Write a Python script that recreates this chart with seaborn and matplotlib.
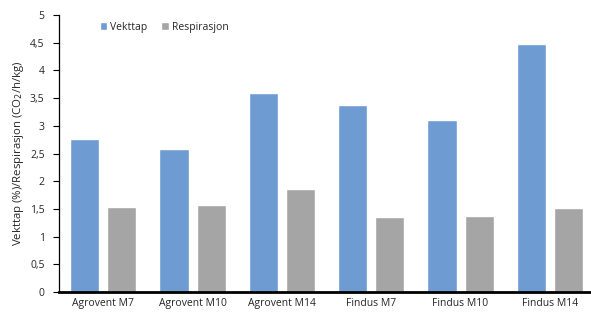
import matplotlib
matplotlib.use("Agg")
import matplotlib.pyplot as plt
import seaborn as sns
import pandas as pd

categories = ["Agrovent M7", "Agrovent M10", "Agrovent M14", "Findus M7", "Findus M10", "Findus M14"]
vekttap = [2.76, 2.58, 3.59, 3.38, 3.10, 4.47]
respirasjon = [1.54, 1.57, 1.86, 1.35, 1.37, 1.52]
series = ["Vekttap", "Respirasjon"]
yticks = [0, 0.5, 1, 1.5, 2, 2.5, 3, 3.5, 4, 4.5, 5]
ytick_labels = ["0", "0,5", "1", "1,5", "2", "2,5", "3", "3,5", "4", "4,5", "5"]

df = pd.DataFrame({
    "cat": categories * 2,
    "serie": [series[0]] * len(categories) + [series[1]] * len(categories),
    "val": vekttap + respirasjon,
})

sns.set_style("white")
plt.rcParams["font.family"] = ["Open Sans", "DejaVu Sans"]

fig = plt.figure(figsize=(5.91, 3.14), dpi=100)
ax = fig.add_axes([0.099, 0.07, 0.907, 0.882])
sns.barplot(data=df, x="cat", y="val", hue="serie", order=categories, hue_order=series,
            palette=["#6F9BD3", "#A5A5A5"], width=0.835, gap=0.215, ax=ax,
            saturation=1, errorbar=None)

ax.set_ylim(0, 5)
ax.set_xlim(-0.5, len(categories) - 0.5)
ax.set_yticks(yticks)
ax.set_yticklabels(ytick_labels, fontsize=7.5)
ax.tick_params(axis="y", length=4, width=0.8, direction="out", left=True, pad=6, color="#000000")
ax.tick_params(axis="x", length=0, labelsize=7.5, pad=4)
ax.set_xlabel("")
ax.set_ylabel("Vekttap (%)/Respirasjon (CO$_2$/h/kg)", fontsize=8.2, labelpad=3)
for s in ["top", "right"]:
    ax.spines[s].set_visible(False)
ax.spines["left"].set_color("#000000")
ax.spines["left"].set_linewidth(0.9)
ax.spines["bottom"].set_color("#000000")
ax.spines["bottom"].set_linewidth(2)

leg = ax.legend(loc="upper left", bbox_to_anchor=(0.06, 1.01), ncol=2, frameon=False,
                fontsize=7.5, handlelength=0.7, handleheight=0.7, handletextpad=0.3,
                columnspacing=1.3)

fig.savefig("out.png", dpi=100)
